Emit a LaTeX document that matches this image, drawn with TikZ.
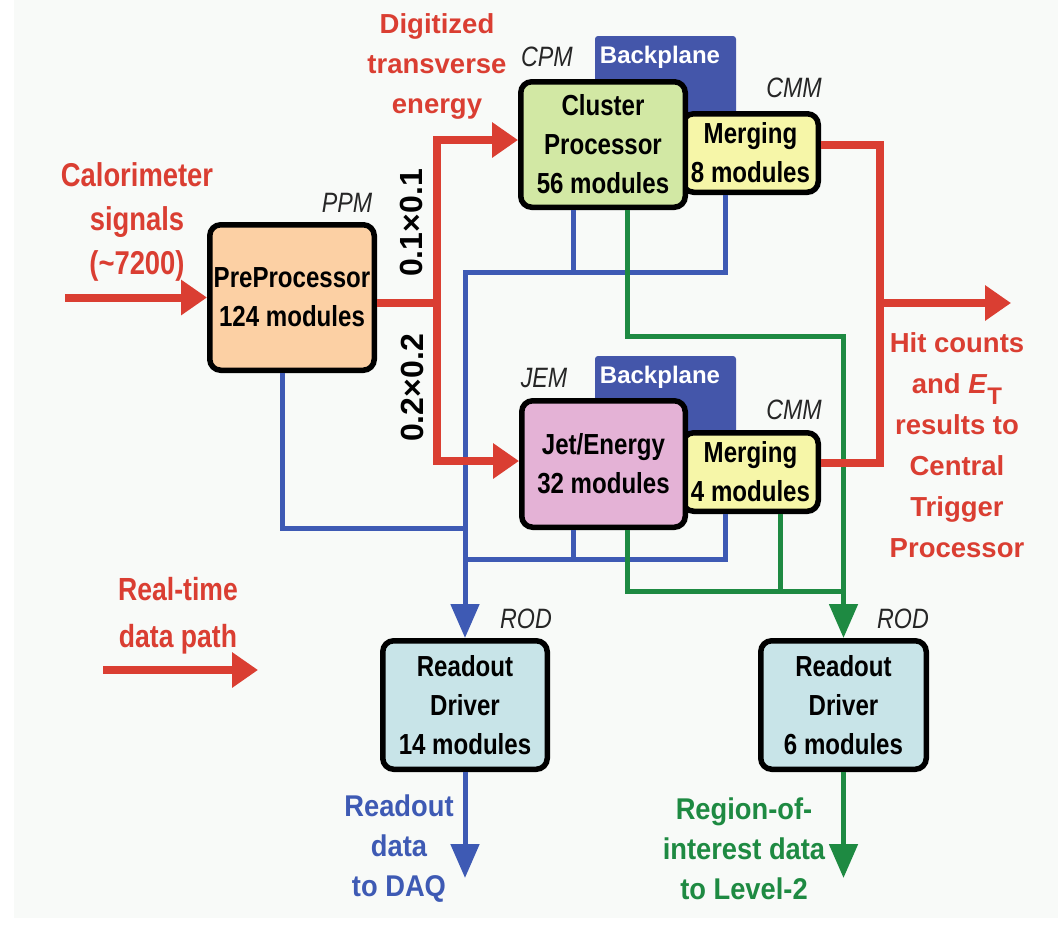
\documentclass[tikz,border=0pt]{standalone}
\usepackage{fontspec}
\setmainfont{Liberation Sans}
\newfontfamily\narrowsans{Liberation Sans}[FakeStretch=0.83]
\newfontfamily\semisans{Liberation Sans}[FakeStretch=0.91]
\usetikzlibrary{arrows.meta}

\definecolor{sigred}{RGB}{218,62,50}
\definecolor{roblue}{RGB}{62,90,180}
\definecolor{roigreen}{RGB}{30,138,66}
\definecolor{planeblue}{RGB}{68,86,170}
\definecolor{ppmfill}{RGB}{252,208,164}
\definecolor{cpmfill}{RGB}{210,232,164}
\definecolor{cmmfill}{RGB}{246,246,168}
\definecolor{jemfill}{RGB}{228,178,214}
\definecolor{rodfill}{RGB}{200,228,232}
\definecolor{bgfill}{RGB}{248,250,248}

\newcommand{\fsz}[2]{\fontsize{#1}{#2}\selectfont}

\tikzset{
	module/.style={draw=black, line width=5.5pt, rounded corners=11pt, align=center,
		inner sep=0pt, font=\narrowsans\bfseries\fsz{29}{39}},
	plane/.style={fill=planeblue, rounded corners=3pt, minimum width=141pt,
		minimum height=90pt, inner sep=0pt},
	planetxt/.style={text=white, font=\bfseries\fsz{24}{24}},
	tag/.style={text=black!85, font=\narrowsans\itshape\fsz{28}{28}},
	redtxt/.style={text=sigred, align=center, font=\narrowsans\bfseries\fsz{33}{44}},
	bluetxt/.style={text=roblue, align=center, font=\semisans\bfseries\fsz{30}{40}},
	greentxt/.style={text=roigreen, align=center, font=\semisans\bfseries\fsz{30}{40}},
	gran/.style={rotate=90, font=\bfseries\fsz{32}{32}},
	redline/.style={draw=sigred, line width=8pt},
	redarr/.style={redline, -{Triangle[length=26pt,width=34pt]}},
	blueline/.style={draw=roblue, line width=5pt},
	bluearr/.style={blueline, -{Triangle[length=34pt,width=28pt]}},
	greenline/.style={draw=roigreen, line width=5pt},
	greenarr/.style={greenline, -{Triangle[length=34pt,width=28pt]}},
}

\begin{document}
\begin{tikzpicture}[x=1pt, y=-1pt]
	\useasboundingbox (0,0) rectangle (1058,937);
	\fill[white] (0,0) rectangle (1058,937);
	\fill[bgfill] (14,0) rectangle (1058,918);

	% backplanes
	\node[plane] (bpA) at (665.5,81) {};
	\node[plane] (bpB) at (665.5,401) {};
	\node[planetxt] (bpAtxt) at (660,57) {Backplane};
	\node[planetxt] (bpBtxt) at (660,377) {Backplane};

	% modules
	\node[module, fill=ppmfill, minimum width=164.5pt, minimum height=145.5pt] (ppm) at (292,297.5)
		{PreProcessor\\124 modules};
	\node[module, fill=cmmfill, minimum width=135.5pt, minimum height=78.5pt] (cmmA) at (750.5,153)
		{Merging\\8 modules};
	\node[module, fill=cpmfill, minimum width=164.5pt, minimum height=125.5pt] (cpm) at (603,144.5)
		{Cluster\\Processor\\56 modules};
	\node[module, fill=cmmfill, minimum width=135.5pt, minimum height=78.5pt] (cmmB) at (750.5,472)
		{Merging\\4 modules};
	\node[module, fill=jemfill, minimum width=163.5pt, minimum height=126.5pt] (jem) at (603.5,464)
		{Jet/Energy\\32 modules};
	\node[module, fill=rodfill, minimum width=164.5pt, minimum height=128.5pt] (rodA) at (465,705)
		{Readout\\Driver\\14 modules};
	\node[module, fill=rodfill, minimum width=165.5pt, minimum height=128.5pt] (rodB) at (843.5,705)
		{Readout\\Driver\\6 modules};

	% module tags
	\node[tag] (ppmtag) at (347,203) {PPM};
	\node[tag] (cpmtag) at (547,57) {CPM};
	\node[tag] (cmmAtag) at (794,88) {CMM};
	\node[tag] (jemtag) at (544,378) {JEM};
	\node[tag] (cmmBtag) at (794,410) {CMM};
	\node[tag] (rodAtag) at (526,619) {ROD};
	\node[tag] (rodBtag) at (903,619) {ROD};

	% junctions and free ends
	\coordinate (calin) at (65,297.5);
	\coordinate (split) at (437,303);
	\coordinate (hit) at (880,303);
	\coordinate (hitend) at (1011,303);
	\coordinate (leg0) at (103,670);
	\coordinate (leg1) at (258,670);
	\coordinate (bA) at (465,272);
	\coordinate (bB) at (465,528);
	\coordinate (bC) at (465,559);
	\coordinate (gA) at (843.5,336);
	\coordinate (gB) at (843.5,591);
	\coordinate (daq) at (465,878);
	\coordinate (lvl2) at (843.5,878);

	% readout path
	\draw[blueline] ([xshift=-10]ppm.south) |- (bB);
	\draw[blueline] ([xshift=-30]cpm.south) -- ([xshift=-30]cpm.south |- bA);
	\draw[bluearr] ([xshift=-25]cmmA.south) |- (bA) -- (rodA.north);
	\draw[blueline] ([xshift=-30]jem.south) -- ([xshift=-30]jem.south |- bC);
	\draw[blueline] ([xshift=-25]cmmB.south) |- (bC);
	\draw[bluearr] (rodA.south) -- (daq);

	% region-of-interest path
	\draw[greenarr] ([xshift=24]cpm.south) |- (gA) -- (rodB.north);
	\draw[greenline] ([xshift=24]jem.south) |- (gB);
	\draw[greenline] ([xshift=30]cmmB.south) -- ([xshift=30]cmmB.south |- gB);
	\draw[greenarr] (rodB.south) -- (lvl2);

	% real-time path
	\draw[redarr] (calin) -- (calin -| ppm.west);
	\draw[redline] (ppm.east |- split) -- (split);
	\draw[redarr] (split) |- ([yshift=4.5]cpm.west);
	\draw[redarr] (split) |- ([yshift=3]jem.west);
	\draw[redline] ([yshift=8.5]cmmA.east) -| (hit) |- ([yshift=9]cmmB.east);
	\draw[redarr] (hit) -- (hitend);
	\draw[redarr] (leg0) -- (leg1);

	% granularity
	\node[gran] (g1) at (411,223) {0.1×0.1};
	\node[gran] (g2) at (412,388) {0.2×0.2};

	% texts
	\node[redtxt] (caltxt) at (137,222) {Calorimeter\\signals\\(\textasciitilde7200)};
	\node[redtxt, font=\bfseries\fsz{27.5}{40}] (digtxt) at (437,66) {Digitized\\transverse\\energy};
	\node[redtxt, font=\bfseries\fsz{27.5}{41}] (hittxt) at (957,445)
		{Hit counts\\and \textit{E}\raisebox{-11pt}{\fsz{24}{24}T}\\results to\\Central\\Trigger\\Processor};
	\node[redtxt, font=\narrowsans\bfseries\fsz{32}{47}] (legtxt) at (178,616) {Real-time\\data path};
	\node[bluetxt] (daqtxt) at (399,849) {Readout\\data\\to DAQ};
	\node[greentxt] (l2txt) at (744,849) {Region-of-\\interest data\\to Level-2};
\end{tikzpicture}
\end{document}
